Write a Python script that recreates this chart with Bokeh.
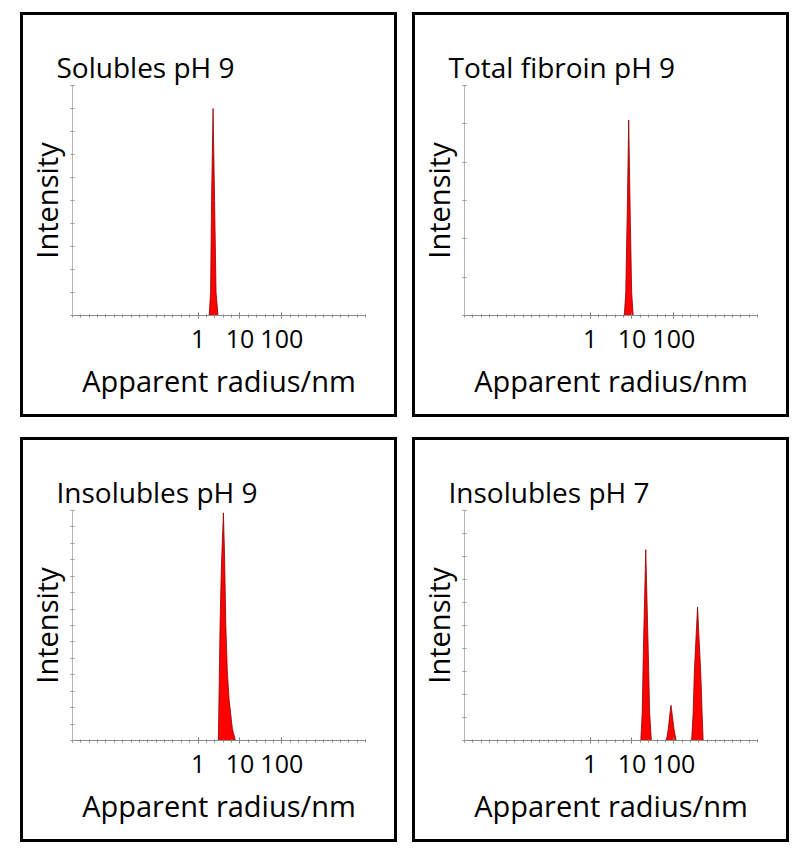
import numpy as np
from bokeh.plotting import figure
from bokeh.layouts import row, column
from bokeh.models import FixedTicker, Range1d, BasicTickFormatter
from bokeh.embed import file_html
from bokeh.resources import INLINE

# ---------------- data ----------------
titles = ["Solubles pH 9", "Total fibroin pH 9", "Insolubles pH 9", "Insolubles pH 7"]

sol9_r = [1.84, 1.99, 2.10, 2.28, 2.48, 2.69, 2.99]
sol9_i = [0.0, 0.10, 0.50, 0.90, 0.50, 0.10, 0.0]

tf9_r = [6.57, 7.12, 7.73, 8.38, 9.08, 9.86, 10.7]
tf9_i = [0.0, 0.10, 0.45, 0.85, 0.45, 0.10, 0.0]

ins9_r = [3.05, 3.2, 3.35, 3.6, 4.03, 4.3, 4.6, 5.0, 5.5, 6.6, 7.8]
ins9_i = [0.0, 0.25, 0.5, 0.75, 0.99, 0.8, 0.5, 0.3, 0.18, 0.05, 0.0]

ins7_r = [16.3, 17.6, 18.9, 21.4, 24.3, 26.5, 29.1,
          66.5, 74.0, 80.0, 85.8, 92.0, 101.0, 114.0,
          267.0, 290.0, 309.0, 340.0, 370.0, 400.0, 442.0, 475.0, 503.0]
ins7_i = [0.0, 0.12, 0.42, 0.83, 0.42, 0.12, 0.0,
          0.0, 0.05, 0.11, 0.153, 0.11, 0.05, 0.0,
          0.0, 0.12, 0.29, 0.45, 0.58, 0.45, 0.29, 0.12, 0.0]

x_tick_values = [1, 10, 100]
x_tick_labels = ["1", "10", "100"]
y_tick_counts = [10, 6, 14, 10]

x_label = "Apparent radius/nm"
y_label = "Intensity"

FONT = "Open Sans"


def make_panel(title, r, inten, ny):
    p = figure(width=377, height=405, x_axis_type="log",
               x_range=Range1d(1e-3, 1e4), y_range=Range1d(0, 1),
               output_backend="svg", toolbar_location=None,
               min_border_left=45, min_border_right=35,
               min_border_top=70, min_border_bottom=105)
    p.styles = {"border": "3px solid black"}
    p.outline_line_color = None
    p.xgrid.visible = False
    p.ygrid.visible = False
    p.background_fill_color = "white"
    p.border_fill_color = "white"

    p.varea(x=r, y1=[0] * len(r), y2=inten, fill_color="#ff0000")
    p.line(x=r, y=inten, line_color="#8b0000", line_width=0.8)

    # title
    p.title.text = title
    p.title.text_font = FONT
    p.title.text_font_size = "28px"
    p.title.text_font_style = "normal"
    p.title.text_color = "black"
    p.title.align = "left"
    p.title.offset = -16
    p.title.standoff = 0

    # x axis
    minor = [10.0 ** (k + j / 5.0) for k in range(-3, 4) for j in range(5)] + [1e4]
    xa = p.xaxis[0]
    xa.ticker = FixedTicker(ticks=x_tick_values, minor_ticks=minor)
    xa.formatter = BasicTickFormatter(use_scientific=False)
    xa.major_label_overrides = dict(zip(x_tick_values, x_tick_labels))
    xa.axis_line_color = "#8c8c8c"
    xa.axis_line_width = 1
    xa.major_tick_line_color = "#777777"
    xa.major_tick_in = 3
    xa.major_tick_out = 3
    xa.minor_tick_line_color = "#888888"
    xa.minor_tick_in = 1
    xa.minor_tick_out = 2
    xa.major_label_text_font = FONT
    xa.major_label_text_font_size = "25px"
    xa.major_label_text_color = "black"
    xa.major_label_standoff = 11
    xa.axis_label = x_label
    xa.axis_label_text_font = FONT
    xa.axis_label_text_font_size = "29px"
    xa.axis_label_text_font_style = "normal"
    xa.axis_label_text_color = "black"
    xa.axis_label_standoff = 10

    # y axis
    ya = p.yaxis[0]
    ya.ticker = FixedTicker(ticks=[], minor_ticks=list(np.linspace(0, 1, ny + 1)))
    ya.axis_line_color = "#b5b5b5"
    ya.minor_tick_line_color = "#999999"
    ya.minor_tick_in = 2
    ya.minor_tick_out = 2
    ya.major_tick_out = 2
    ya.major_tick_line_color = None
    ya.axis_label = y_label
    ya.axis_label_text_font = FONT
    ya.axis_label_text_font_size = "29px"
    ya.axis_label_text_font_style = "normal"
    ya.axis_label_text_color = "black"
    ya.axis_label_standoff = 5
    return p


series = [(sol9_r, sol9_i), (tf9_r, tf9_i), (ins9_r, ins9_i), (ins7_r, ins7_i)]
panels = [make_panel(t, r, i, n) for t, (r, i), n in zip(titles, series, y_tick_counts)]

layout = column(row(panels[0], panels[1], spacing=15),
                row(panels[2], panels[3], spacing=15), spacing=20)
layout.margin = (12, 0, 0, 20)

open("out.html", "w").write(file_html(layout, INLINE))
